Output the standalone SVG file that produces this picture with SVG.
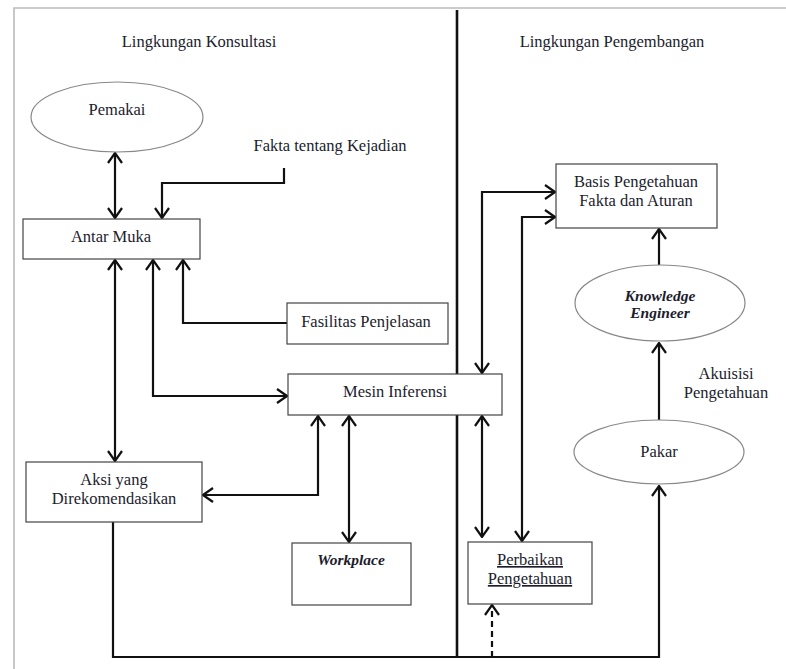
<svg xmlns="http://www.w3.org/2000/svg" width="786" height="669" viewBox="0 0 786 669">
<style>
text{font-family:"Liberation Serif","DejaVu Serif",serif;font-size:16.5px;fill:#1c1c2c;text-anchor:middle}
.box{fill:#fff;stroke:#444;stroke-width:1.2}
.ell{fill:#fff;stroke:#888;stroke-width:1.2}
.c{fill:none;stroke:#111;stroke-width:2.2}
.bi{font-weight:bold;font-style:italic;font-size:15.5px}
</style>
<defs>
<marker id="ah" viewBox="0 0 12 16" refX="11" refY="8" markerWidth="12" markerHeight="16" markerUnits="userSpaceOnUse" orient="auto-start-reverse">
<path d="M1,1 L11,8 L1,15" fill="none" stroke="#111" stroke-width="2.2"/>
</marker>
</defs>
<rect width="786" height="669" fill="#fff"/>
<path d="M14,669 V8 H786" fill="none" stroke="#bbb" stroke-width="1.6"/>
<line x1="457" y1="10" x2="457" y2="658" stroke="#111" stroke-width="2.6"/>
<text x="199" y="47">Lingkungan Konsultasi</text>
<text x="612" y="47">Lingkungan Pengembangan</text>
<text x="726" y="379">Akuisisi</text>
<text x="726" y="398">Pengetahuan</text>
<g id="connectors">
<path class="c" d="M115,153 V218" marker-start="url(#ah)" marker-end="url(#ah)"/>
<path class="c" d="M284,168 V183 H162 V218" marker-end="url(#ah)"/>
<path class="c" d="M115,260 V461" marker-start="url(#ah)" marker-end="url(#ah)"/>
<path class="c" d="M153,260 V396 H287" marker-start="url(#ah)" marker-end="url(#ah)"/>
<path class="c" d="M183,260 V323 H287" marker-start="url(#ah)"/>
<path class="c" d="M318,416 V495 H203" marker-start="url(#ah)" marker-end="url(#ah)"/>
<path class="c" d="M349,416 V542" marker-start="url(#ah)" marker-end="url(#ah)"/>
<path class="c" d="M113,522 V657 H659 V486" marker-end="url(#ah)"/>
<path class="c" d="M482,373 V192 H555" marker-start="url(#ah)" marker-end="url(#ah)"/>
<path class="c" d="M522,541 V217 H555" marker-start="url(#ah)" marker-end="url(#ah)"/>
<path class="c" d="M482,416 V537" marker-start="url(#ah)" marker-end="url(#ah)"/>
<path class="c" d="M492,657 V605" stroke-dasharray="6,4" marker-end="url(#ah)"/>
<path class="c" d="M659,420 V343" marker-end="url(#ah)"/>
<path class="c" d="M659,265 V229" marker-end="url(#ah)"/>
</g>
<g id="pemakai"><ellipse class="ell" cx="117" cy="117" rx="86" ry="35"/><text x="117" y="115">Pemakai</text></g>
<g id="fakta"><text x="330" y="151">Fakta tentang Kejadian</text></g>
<g id="antarmuka"><rect class="box" x="23" y="219" width="177" height="40"/><text x="111" y="242">Antar Muka</text></g>
<g id="fasilitas"><rect class="box" x="287" y="303" width="161" height="41"/><text x="366" y="327">Fasilitas Penjelasan</text></g>
<g id="mesin"><rect class="box" x="288" y="374" width="214" height="41"/><text x="395" y="397">Mesin Inferensi</text></g>
<g id="aksi"><rect class="box" x="26" y="462" width="176" height="60"/><text x="114" y="485">Aksi yang</text><text x="114" y="504">Direkomendasikan</text></g>
<g id="workplace"><rect class="box" x="292" y="543" width="119" height="62"/><text class="bi" x="351" y="565">Workplace</text></g>
<g id="basis"><rect class="box" x="556" y="164" width="161" height="64"/><text x="636" y="187">Basis Pengetahuan</text><text x="636" y="206">Fakta dan Aturan</text></g>
<g id="ke"><ellipse class="ell" cx="660" cy="303" rx="85" ry="38"/><text class="bi" x="660" y="301">Knowledge</text><text class="bi" x="660" y="318">Engineer</text></g>
<g id="pakar"><ellipse class="ell" cx="659" cy="452" rx="85" ry="32"/><text x="659" y="457">Pakar</text></g>
<g id="perbaikan"><rect class="box" x="468" y="542" width="124" height="62"/><text x="530" y="565" text-decoration="underline">Perbaikan</text><text x="530" y="584" text-decoration="underline">Pengetahuan</text></g>
</svg>
